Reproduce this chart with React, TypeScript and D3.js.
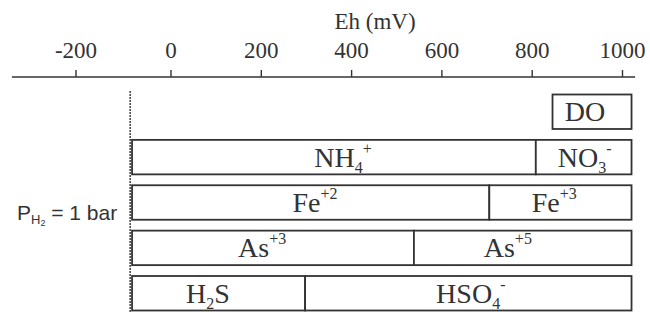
import React from "react";
import * as d3 from "d3";

const tickValues = [-200, 0, 200, 400, 600, 800, 1000];
const axisTitle = "Eh (mV)";
const rowKeys = ["DO", "N", "Fe", "As", "S"];

const segRow = ["DO", "N", "N", "Fe", "Fe", "As", "As", "S", "S"];
const segStart = [845, -82, 808, -82, 705, -82, 538, -82, 297];
const segEnd = [1020, 808, 1020, 705, 1020, 538, 1020, 297, 1020];
const segLabelAt = [917, 381, 916, 319, 849, 202, 746, 82, 664];
const segBase = ["DO", "NH", "NO", "Fe", "Fe", "As", "As", "H", "HSO"];
const segSub = ["", "4", "3", "", "", "", "", "2", "4"];
const segTail = ["", "", "", "", "", "", "", "S", ""];
const segSup = ["", "+", "-", "+2", "+3", "+3", "+5", "", "-"];

const pH2Limit = -86;
const axisExtent = [-335, 1028];

const W = 650;
const H = 312;
const serif = "'Liberation Serif', 'Times New Roman', serif";
const sans = "'Liberation Sans', Arial, sans-serif";
const ink = "#333";

export default function App() {
  const x = d3.scaleLinear().domain([-200, 0, 1000]).range([76, 171, 622.5]);
  const y = d3.scaleBand<string>().domain(rowKeys).range([94.5, 310.5]).paddingInner(0.24).paddingOuter(0);
  const axisY = 77;

  return (
    <svg width={W} height={H} style={{ position: "absolute", left: 0, top: 0, background: "#fff" }}>
      {/* axis */}
      <text x={375} y={29} textAnchor="middle" fontFamily={serif} fontSize={23} fill={ink}>
        {axisTitle}
      </text>
      <line x1={x(axisExtent[0])} x2={x(axisExtent[1])} y1={axisY} y2={axisY} stroke={ink} strokeWidth={1.6} />
      {tickValues.map((t) => (
        <g key={t}>
          <line x1={x(t)} x2={x(t)} y1={axisY} y2={axisY - 7} stroke={ink} strokeWidth={1.4} />
          <text x={x(t)} y={58} textAnchor="middle" fontFamily={serif} fontSize={23} fill={ink}>
            {String(t)}
          </text>
        </g>
      ))}

      {/* pH2 limit */}
      <line
        x1={x(pH2Limit)}
        x2={x(pH2Limit)}
        y1={91}
        y2={H}
        stroke={ink}
        strokeWidth={1.4}
        strokeDasharray="2,1"
      />
      <text x={17} y={220} fontFamily={sans} fontSize={21} fill={ink}>
        P
        <tspan fontSize={13} dy={4}>H</tspan>
        <tspan fontSize={9} dy={2}>2</tspan>
        <tspan dy={-6}>{" = 1 bar"}</tspan>
      </text>

      {/* boxes */}
      {segRow.map((r, i) => {
        const x0 = x(segStart[i]);
        const x1 = x(segEnd[i]);
        const y0 = y(r) as number;
        const bw = y.bandwidth();
        const cx = x(segLabelAt[i]);
        const base = y0 + bw / 2 + 9.5;
        return (
          <g key={i}>
            <rect x={x0} y={y0} width={x1 - x0} height={bw} fill="#fff" stroke={ink} strokeWidth={1.8} />
            <text x={cx} y={base} textAnchor="middle" fontFamily={serif} fontSize={28} fill={ink}>
              {segBase[i]}
              {segSub[i] ? (
                <tspan fontSize={16} dy={6}>
                  {segSub[i]}
                </tspan>
              ) : null}
              {segTail[i] ? <tspan dy={-6}>{segTail[i]}</tspan> : null}
              {segSup[i] ? (
                <tspan fontSize={16} dy={segSub[i] && !segTail[i] ? -19 : -13}>
                  {segSup[i]}
                </tspan>
              ) : null}
            </text>
          </g>
        );
      })}
    </svg>
  );
}
